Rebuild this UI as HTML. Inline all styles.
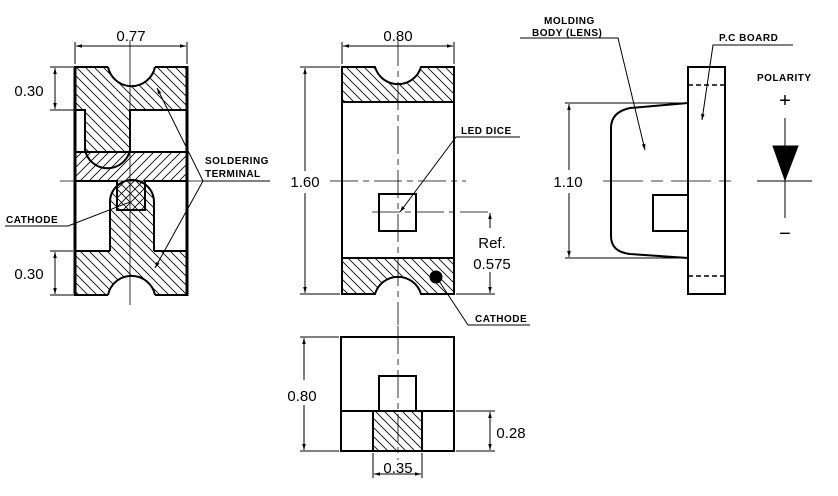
<!DOCTYPE html>
<html><head><meta charset="utf-8"><style>
html,body{margin:0;padding:0;background:#fff}
svg{display:block}
text{font-family:"Liberation Sans",sans-serif;fill:#000}
.d{font-size:15px}
.l{font-size:10px;font-weight:bold;letter-spacing:0.5px}
</style></head><body>
<svg width="838" height="496" viewBox="0 0 838 496" xmlns="http://www.w3.org/2000/svg">
<defs>
<pattern id="hb" width="9" height="9" patternUnits="userSpaceOnUse"><path d="M-2,-2 L11,11 M-2,7 L2,11 M7,-2 L11,2" stroke="#000" stroke-width="0.8"/></pattern>
<pattern id="hf" width="9" height="9" patternUnits="userSpaceOnUse"><path d="M-2,11 L11,-2 M-2,2 L2,-2 M7,11 L11,7" stroke="#000" stroke-width="0.8"/></pattern>
<marker id="a" viewBox="0 0 10 10" refX="10" refY="5" markerWidth="8" markerHeight="6" orient="auto-start-reverse"><path d="M0,2 L10,5 L0,8z" fill="#000"/></marker>
</defs>
<g fill="none" stroke="#000" stroke-width="1">
<!-- LEFT VIEW -->
<path d="M75,67 H108 A24,24 0 0 0 155,67 H187 V110 H130 V152 H75Z" fill="url(#hb)" stroke="none"/>
<rect x="75" y="110" width="10" height="42" fill="#fff" stroke="none"/>
<rect x="75" y="152" width="112" height="29" fill="url(#hf)" stroke="none"/>
<rect x="117" y="181" width="28" height="29" fill="url(#hf)" stroke="none"/>
<path d="M110,295 V251 V202 A22,22 0 0 1 154,202 V251 H187 V295 H155 A24,24 0 0 0 108,295Z" fill="url(#hb)" stroke="none"/>
<path d="M75,251 H110 V295 H75Z" fill="url(#hb)" stroke="none"/>
<g stroke-width="2">
<path d="M108,67 A24,24 0 0 0 155,67"/>
<path d="M108,295 A24,24 0 0 1 155,295"/>
<line x1="75" y1="66" x2="75" y2="296" stroke-width="3"/>
<line x1="187" y1="66" x2="187" y2="296" stroke-width="3"/>
<line x1="75" y1="67" x2="108" y2="67"/><line x1="155" y1="67" x2="187" y2="67"/>
<line x1="75" y1="295" x2="108" y2="295"/><line x1="155" y1="295" x2="187" y2="295"/>
<path d="M75,110 H85 V152"/>
<path d="M187,110 H130 V152"/>
<path d="M85,150 A23,23 0 0 0 130,150"/>
<line x1="75" y1="152" x2="187" y2="152"/>
<path d="M75,181 H117 V210 H145 V181 H187"/>
<path d="M110,251 V202 A22,22 0 0 1 154,202 V251"/>
<path d="M75,251 H110 M154,251 H187"/>
</g>
<line x1="130" y1="40" x2="130" y2="305" stroke-width="0.8"/>
<line x1="60" y1="181" x2="232" y2="181" stroke-width="0.8"/>
<line x1="75" y1="42" x2="75" y2="64"/><line x1="187" y1="42" x2="187" y2="64"/>
<line x1="76" y1="46" x2="186" y2="46" marker-start="url(#a)" marker-end="url(#a)"/>
<line x1="50" y1="67" x2="73" y2="67"/><line x1="50" y1="110" x2="75" y2="110"/>
<line x1="55" y1="68" x2="55" y2="109" marker-start="url(#a)" marker-end="url(#a)"/>
<line x1="50" y1="251" x2="73" y2="251"/><line x1="50" y1="295" x2="73" y2="295"/>
<line x1="55" y1="252" x2="55" y2="294" marker-start="url(#a)" marker-end="url(#a)"/>
<path d="M270,181 H203 L157,88" marker-end="url(#a)"/>
<path d="M203,181 L155,268" marker-end="url(#a)"/>
<path d="M5,226 H68 L130,202"/>
<!-- MIDDLE VIEW -->
<path d="M342,67 H375 A24,24 0 0 0 421,67 H454 V102 H342Z" fill="url(#hb)" stroke="none"/>
<path d="M342,258 H454 V294 H421 A24,24 0 0 0 375,294 H342Z" fill="url(#hb)" stroke="none"/>
<g stroke-width="2">
<path d="M342,67 H375 A24,24 0 0 0 421,67 H454 V294 H421 A24,24 0 0 0 375,294 H342Z"/>
<line x1="342" y1="102" x2="454" y2="102"/><line x1="342" y1="258" x2="454" y2="258"/>
<rect x="379" y="194" width="37" height="37"/>
</g>
<circle cx="436" cy="277" r="6" fill="#000"/>
<line x1="398" y1="38" x2="398" y2="325" stroke-dasharray="28,5,6,5" stroke-width="0.8"/>
<line x1="330" y1="181" x2="466" y2="181" stroke-dasharray="28,5,6,5" stroke-width="0.8"/>
<line x1="372" y1="212" x2="492" y2="212" stroke-dasharray="28,5,6,5" stroke-width="0.8"/>
<line x1="342" y1="42" x2="342" y2="64"/><line x1="454" y1="42" x2="454" y2="64"/>
<line x1="343" y1="46" x2="453" y2="46" marker-start="url(#a)" marker-end="url(#a)"/>
<line x1="300" y1="67" x2="340" y2="67"/><line x1="300" y1="294" x2="340" y2="294"/>
<line x1="305" y1="68" x2="305" y2="171" marker-start="url(#a)"/>
<line x1="305" y1="193" x2="305" y2="293" marker-end="url(#a)"/>
<line x1="456" y1="294" x2="495" y2="294"/>
<line x1="490" y1="213" x2="490" y2="228" marker-start="url(#a)"/>
<line x1="490" y1="272" x2="490" y2="293" marker-end="url(#a)"/>
<path d="M520,137 H456 L400,212" marker-end="url(#a)"/>
<path d="M530,325 H468 L439,281"/>
<!-- RIGHT VIEW -->
<g stroke-width="2">
<rect x="688" y="67" width="37" height="227"/>
<path d="M688,103 L630,108 Q611,112 611,128 V236 Q611,252 630,254 L688,258"/>
<rect x="653" y="195" width="35" height="36"/>
</g>
<line x1="688" y1="85" x2="725" y2="85" stroke-dasharray="5,3" stroke-width="1.5"/>
<line x1="688" y1="276" x2="725" y2="276" stroke-dasharray="5,3" stroke-width="1.5"/>
<line x1="565" y1="103" x2="686" y2="103"/><line x1="565" y1="258" x2="686" y2="258"/>
<line x1="569" y1="104" x2="569" y2="170" marker-start="url(#a)"/>
<line x1="569" y1="193" x2="569" y2="257" marker-end="url(#a)"/>
<line x1="603" y1="181" x2="736" y2="181" stroke-dasharray="40,8,12,8" stroke-width="0.8"/>
<path d="M520,38 H618 L645,150" marker-end="url(#a)"/>
<path d="M793,45 H713 L702,120" marker-end="url(#a)"/>
<line x1="785" y1="118" x2="785" y2="218"/>
<path d="M773,146 H798 L785,180Z" fill="#000"/>
<line x1="757" y1="181" x2="812" y2="181"/>
<!-- BOTTOM VIEW -->
<rect x="373" y="411" width="49" height="40" fill="url(#hb)" stroke="none"/>
<g stroke-width="2">
<rect x="341" y="337" width="113" height="114"/>
<line x1="341" y1="411" x2="454" y2="411"/>
<rect x="379" y="376" width="37" height="35"/>
<line x1="373" y1="411" x2="373" y2="451"/><line x1="422" y1="411" x2="422" y2="451"/>
</g>
<line x1="398" y1="326" x2="398" y2="460" stroke-dasharray="28,5,6,5" stroke-width="0.8"/>
<line x1="300" y1="337" x2="339" y2="337"/><line x1="300" y1="451" x2="339" y2="451"/>
<line x1="304" y1="338" x2="304" y2="380" marker-start="url(#a)"/>
<line x1="304" y1="405" x2="304" y2="450" marker-end="url(#a)"/>
<line x1="456" y1="411" x2="495" y2="411"/><line x1="456" y1="451" x2="495" y2="451"/>
<line x1="490" y1="412" x2="490" y2="450" marker-start="url(#a)" marker-end="url(#a)"/>
<line x1="373" y1="453" x2="373" y2="478"/><line x1="422" y1="453" x2="422" y2="478"/>
<line x1="374" y1="474" x2="421" y2="474" marker-start="url(#a)" marker-end="url(#a)"/>
</g>
<rect x="285" y="173" width="40" height="18" fill="#fff"/>
<rect x="547" y="173" width="42" height="18" fill="#fff"/>
<text class="d" x="131" y="41" text-anchor="middle">0.77</text>
<text class="d" x="29" y="96" text-anchor="middle">0.30</text>
<text class="d" x="29" y="279" text-anchor="middle">0.30</text>
<text class="l" x="205" y="164">SOLDERING</text>
<text class="l" x="205" y="177">TERMINAL</text>
<text class="l" x="6" y="223">CATHODE</text>
<text class="d" x="398" y="41" text-anchor="middle">0.80</text>
<text class="d" x="305" y="187" text-anchor="middle">1.60</text>
<text class="l" x="461" y="134">LED DICE</text>
<text class="d" x="492" y="248" text-anchor="middle">Ref.</text>
<text class="d" x="492" y="269" text-anchor="middle">0.575</text>
<text class="l" x="475" y="322">CATHODE</text>
<text class="l" x="544" y="24">MOLDING</text>
<text class="l" x="532" y="36">BODY (LENS)</text>
<text class="l" x="719" y="41">P.C BOARD</text>
<text class="l" x="757" y="81">POLARITY</text>
<text x="785" y="107" font-size="20" text-anchor="middle">+</text>
<text x="785" y="240" font-size="20" text-anchor="middle">−</text>
<text class="d" x="568" y="187" text-anchor="middle">1.10</text>
<text class="d" x="302" y="401" text-anchor="middle">0.80</text>
<text class="d" x="511" y="438" text-anchor="middle">0.28</text>
<text class="d" x="398" y="473" text-anchor="middle">0.35</text>
</svg>
</body></html>
